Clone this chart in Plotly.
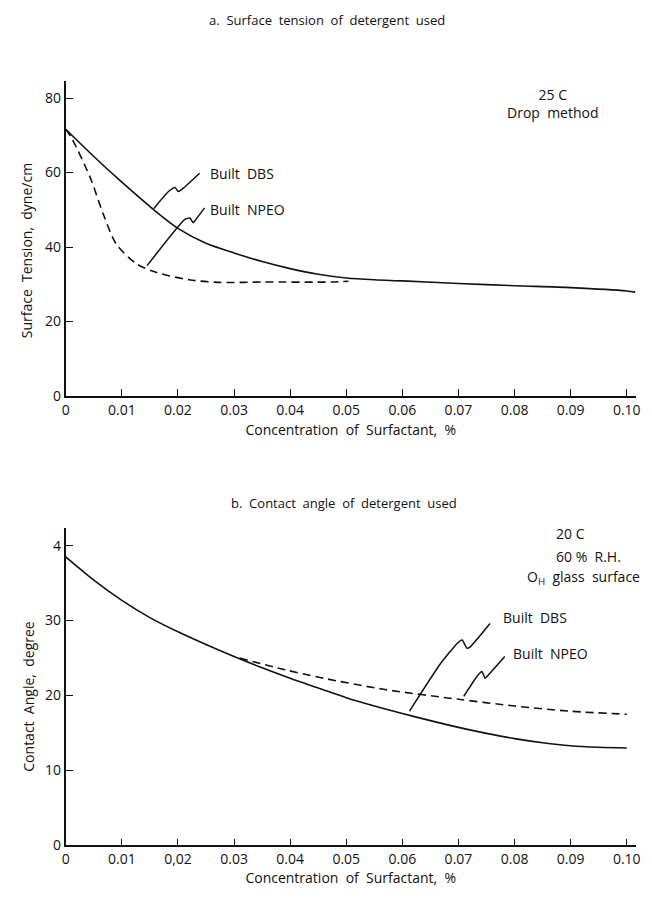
import plotly.graph_objects as go

# ---------------- data ----------------
# (a) surface tension vs concentration
conc_dbs_a = [0, 0.005, 0.010, 0.0157, 0.020, 0.025, 0.030, 0.035, 0.040, 0.045,
              0.050, 0.055, 0.060, 0.070, 0.080, 0.090, 0.100, 0.1015]
tension_dbs = [71.6, 64.3, 57.4, 50.0, 45.0, 41.0, 38.4, 36.1, 34.2, 32.7,
               31.7, 31.2, 30.9, 30.2, 29.6, 29.1, 28.2, 27.9]
conc_npeo_a = [0, 0.0011, 0.0044, 0.0067, 0.009, 0.0126, 0.0161, 0.022, 0.0273, 0.035, 0.0473, 0.0504]
tension_npeo = [71.6, 69.1, 58.5, 48.8, 40.8, 35.5, 33.2, 31.2, 30.5, 30.6, 30.6, 30.8]

# (b) contact angle vs concentration
conc_dbs_b = [0, 0.005, 0.010, 0.015, 0.020, 0.025, 0.030, 0.035, 0.040, 0.045, 0.050,
              0.055, 0.060, 0.065, 0.070, 0.075, 0.080, 0.085, 0.090, 0.095, 0.100]
angle_dbs = [38.5, 35.4, 32.7, 30.4, 28.5, 26.8, 25.2, 23.7, 22.3, 21.0, 19.7,
             18.6, 17.6, 16.65, 15.75, 14.95, 14.25, 13.7, 13.3, 13.1, 13.0]
conc_npeo_b = [0.031, 0.0393, 0.046, 0.0569, 0.070, 0.080, 0.090, 0.100]
angle_npeo = [25.0, 23.4, 22.3, 20.8, 19.5, 18.6, 17.9, 17.5]

# tick labels
x_tickvals = [0, 0.01, 0.02, 0.03, 0.04, 0.05, 0.06, 0.07, 0.08, 0.09, 0.10]
x_ticktext_a = ["0", "0.01", "0.02", "0.03", "0.04", "0.05", "0.06", "0.07", "0.08", "0.09", "0.10"]
x_ticktext_b = ["0", "0.01", "0,02", "0.03", "0.04", "0.05", "0.06", "0.07", "0.08", "0.09", "0.10"]
y_tickvals_a = [0, 20, 40, 60, 80]
y_ticktext_a = ["0", "20", "40", "60", "80"]
y_tickvals_b = [0, 10, 20, 30, 40]
y_ticktext_b = ["0", "10", "20", "30", "4"]

# leader squiggles (label pointers)
lead_dbs_a_x = [0.01568, 0.01831, 0.01947, 0.02007, 0.02065, 0.02387]
lead_dbs_a_y = [50.3, 54.9, 56.0, 54.9, 55.4, 59.8]
lead_npeo_a_x = [0.0145, 0.02123, 0.02211, 0.02271, 0.02299, 0.02475]
lead_npeo_a_y = [35.0, 47.4, 47.8, 46.5, 47.0, 50.5]
lead_dbs_b_x = [0.06128, 0.06684, 0.06977, 0.07065, 0.07153, 0.07211, 0.07563]
lead_dbs_b_y = [17.93, 24.3, 26.95, 27.4, 26.3, 26.5, 29.6]
lead_npeo_b_x = [0.07095, 0.07329, 0.07417, 0.07475, 0.07534, 0.07826]
lead_npeo_b_y = [19.9, 22.55, 23.2, 22.3, 22.75, 25.2]

# ---------------- layout helpers ----------------
OFF = 8                          # page body margin
W, H = 652 - OFF, 901 - 2 * OFF  # figure size so that the page does not overflow
def px(x):
    return (x - OFF) / W
def py(y):
    return 1 - (y - OFF) / H

FONT = "Open Sans"
INK = "#111111"

fig = go.Figure()

def line(x, y, xa, ya, dash="solid", width=1.6, name=""):
    fig.add_trace(go.Scatter(x=x, y=y, xaxis=xa, yaxis=ya, mode="lines",
                             line=dict(color=INK, width=width, dash=dash, shape="spline", smoothing=0.8),
                             name=name, showlegend=False, hoverinfo="skip"))

def leader(x, y, xa, ya):
    fig.add_trace(go.Scatter(x=x, y=y, xaxis=xa, yaxis=ya, mode="lines",
                             line=dict(color=INK, width=1.5, shape="spline", smoothing=0.5),
                             showlegend=False, hoverinfo="skip"))

line(conc_dbs_a, tension_dbs, "x", "y", name="Built DBS")
line(conc_npeo_a, tension_npeo, "x", "y", dash="8px,5px", name="Built NPEO")
line(conc_dbs_b, angle_dbs, "x2", "y2", name="Built DBS")
line(conc_npeo_b, angle_npeo, "x2", "y2", dash="8px,5px", name="Built NPEO")

leader(lead_dbs_a_x, lead_dbs_a_y, "x", "y")
leader(lead_npeo_a_x, lead_npeo_a_y, "x", "y")
leader(lead_dbs_b_x, lead_dbs_b_y, "x2", "y2")
leader(lead_npeo_b_x, lead_npeo_b_y, "x2", "y2")

xdom = [px(62.5), px(640.6)]
TICKFONT = dict(family=FONT, size=14, color=INK)
TITLEFONT = dict(family=FONT, size=14, color=INK)
axis_common = dict(showgrid=False, zeroline=False, showline=True, linecolor=INK, linewidth=1.6,
                   ticks="inside", ticklen=7, tickwidth=1.4, tickcolor=INK,
                   tickfont=TICKFONT, mirror=False)

fig.update_layout(
    width=W, height=H,
    margin=dict(l=0, r=0, t=0, b=0),
    paper_bgcolor="white", plot_bgcolor="white",
    font=dict(family=FONT, color=INK),
    xaxis=dict(domain=xdom, range=[0, 0.1016], anchor="y", tickmode="array",
               tickvals=x_tickvals, ticktext=x_ticktext_a,
               title=dict(text="Concentration  of  Surfactant,  %", font=TITLEFONT, standoff=8),
               **axis_common),
    yaxis=dict(domain=[py(400), py(82)], range=[0, 84.5], anchor="x", tickmode="array",
               tickvals=y_tickvals_a, ticktext=y_ticktext_a,
               **axis_common),
    xaxis2=dict(domain=xdom, range=[0, 0.1016], anchor="y2", tickmode="array",
                tickvals=x_tickvals, ticktext=x_ticktext_b,
                title=dict(text="Concentration  of  Surfactant,  %", font=TITLEFONT, standoff=0),
                **axis_common),
    yaxis2=dict(domain=[py(854), py(533)], range=[0, 42.4], anchor="x2", tickmode="array",
                tickvals=y_tickvals_b, ticktext=y_ticktext_b,
                **axis_common),
)

def note(text, x, y, xanchor="left", size=14, align="left", angle=0):
    fig.add_annotation(text=text, x=px(x), y=py(y), xref="paper", yref="paper",
                       xanchor=xanchor, yanchor="middle", showarrow=False, align=align,
                       textangle=angle, font=dict(family=FONT, size=size, color=INK))

# y-axis titles (rotated, placed as in the reference)
note("Surface  Tension,  dyne/cm", 23, 253, xanchor="center", angle=-90)
note("Contact  Angle,  degree", 25, 703, xanchor="center", angle=-90)

# panel titles
note("a.  Surface  tension  of  detergent  used", 327, 20, xanchor="center", size=13)
note("b.  Contact  angle  of  detergent  used", 345, 508, xanchor="center", size=13)

# series labels
note("Built  DBS", 207, 175)
note("Built  NPEO", 207, 212)
note("Built  DBS", 504, 624)
note("Built  NPEO", 514, 660)

# conditions
note("25 C<br>Drop  method", 557, 104, xanchor="center", align="center")
note("20 C", 558, 539)
note("60 %  R.H.", 558, 562)
note("O<sub>H</sub>  glass  surface", 528, 583)

fig.write_html("out.html")
